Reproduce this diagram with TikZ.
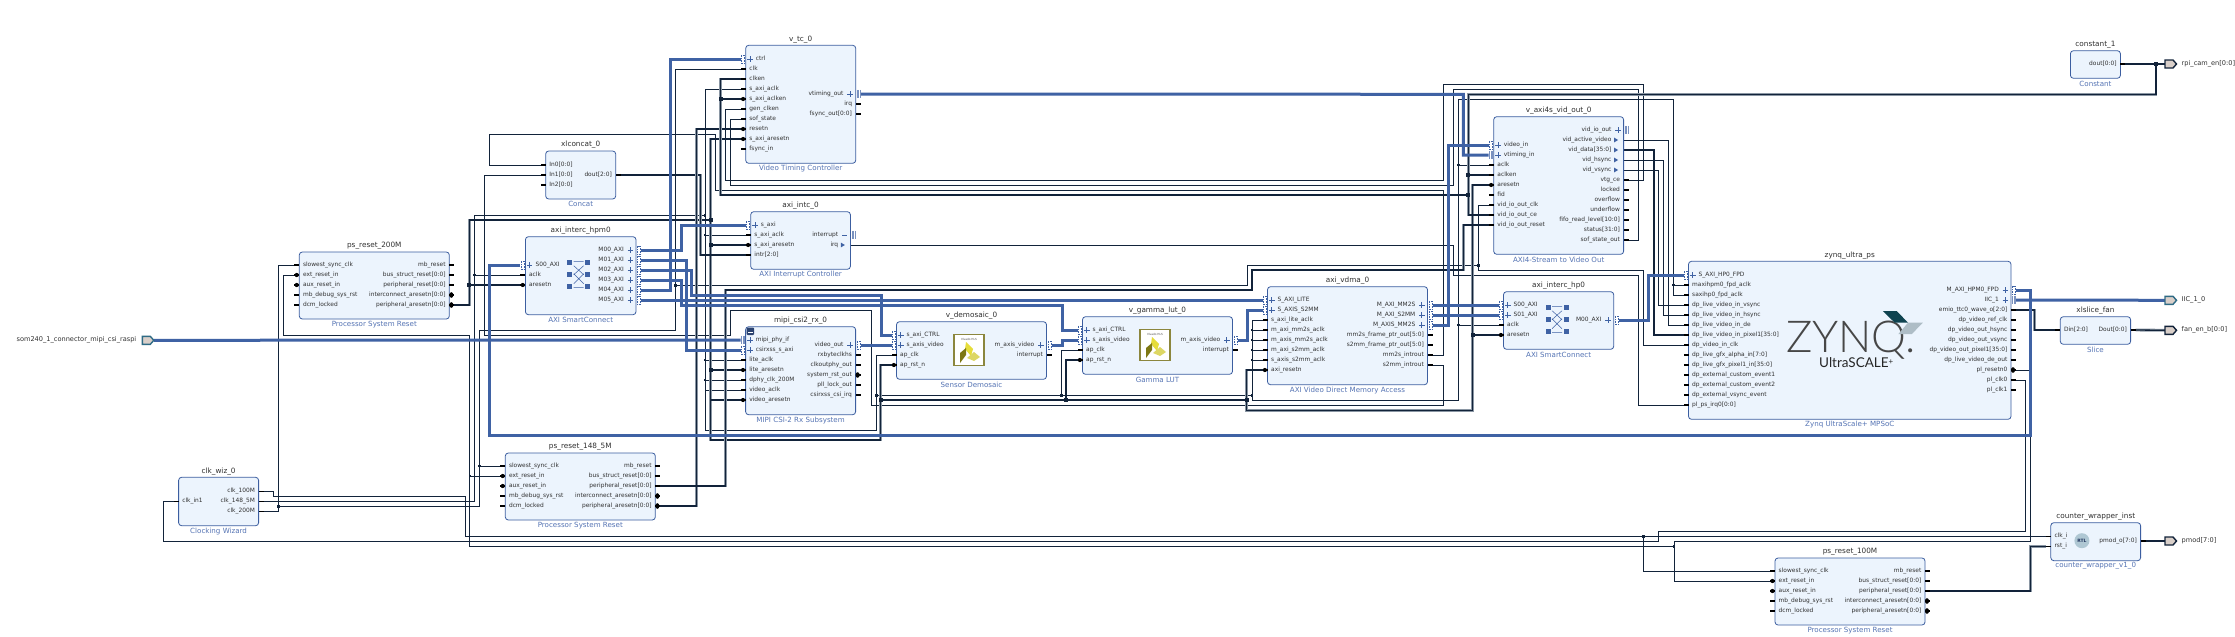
\documentclass[tikz,border=0pt]{standalone}
\usepackage{fontspec}
\setmainfont{DejaVu Sans}
\newfontfamily\zynqfont{Lato Light}
\newfontfamily\ultrafont{Lato}
\usetikzlibrary{calc}
\definecolor{bfill}{HTML}{ECF4FD}
\definecolor{bline}{HTML}{3C5EA0}
\definecolor{subc}{HTML}{5574B4}
\definecolor{wirec}{HTML}{12233A}
\definecolor{halo}{HTML}{8A96A3}
\definecolor{ifc}{HTML}{3F62A4}
\definecolor{plabc}{HTML}{303030}
\definecolor{portf}{HTML}{D9CFC9}
\definecolor{portt}{HTML}{2F6B85}
\definecolor{zteal}{HTML}{0F4350}
\definecolor{zgray}{HTML}{AEBDC6}
\definecolor{rtlc}{HTML}{AFC7D3}
\pgfdeclarelayer{bg}
\pgfsetlayers{bg,main}
\tikzset{
 blockbox/.style={draw=bline,fill=bfill,line width=.8pt,rounded corners=3pt,inner sep=0pt,outer sep=0pt},
 titlelab/.style={font=\fontsize{7.3}{8}\selectfont,text=plabc,inner sep=0pt},
 sublab/.style={font=\fontsize{7.1}{8}\selectfont,text=subc,inner sep=0pt},
 plab/.style={font=\fontsize{5.9}{7}\selectfont,text=plabc,inner sep=0pt,text height=4.4pt,text depth=1.3pt},
 portlab/.style={font=\fontsize{6.6}{8}\selectfont,text=plabc,inner sep=0pt,text height=4.6pt,text depth=1.4pt},
 wire/.style={draw=wirec,line width=.9pt,line join=miter},
 buswire/.style={draw=wirec,line width=1.3pt,preaction={draw=halo,line width=2.9pt}},
 ifcwire/.style={draw=ifc,line width=3pt},
 combd/.style={draw=ifc,line width=.6pt,densely dotted},
 combv/.style={draw=ifc!70,line width=.4pt},
 portshape/.style={fill=portf,line width=1.4pt},
}
\catcode`\_=12
\newcommand\blk[7]{\def\bl{#2}\def\br{#4}%
 \node[blockbox,minimum width={#4-#2},minimum height={#5-#3}] (#1) at ({(#2+#4)/2},{(#3+#5)/2}) {};%
 \node[titlelab] (#1-t) at ({(#2+#4)/2},{#3-6}) {#6};%
 \node[sublab] (#1-s) at ({(#2+#4)/2},{#5+5.4}) {#7};}
% left pins
\newcommand\LP[3]{\coordinate (#1) at ({\bl-5},{#2});\node[plab,anchor=west] (#1-l) at ({\bl+3.5},{#2}) {#3};\fill[black] ({\bl-5},{#2-.8}) rectangle (\bl,{#2+.8});}
\newcommand\LB[3]{\coordinate (#1) at ({\bl-5},{#2});\node[plab,anchor=west] (#1-l) at ({\bl+3.5},{#2}) {#3};\fill[black] ({\bl-5},{#2-1.4}) rectangle (\bl,{#2+1.4});}
\newcommand\LD[3]{\coordinate (#1) at ({\bl-5},{#2});\node[plab,anchor=west] (#1-l) at ({\bl+3.5},{#2}) {#3};\fill[black] ({\bl-5},{#2-.8}) rectangle (\bl,{#2+.8});\fill[black] ({\bl-2.6},{#2}) circle (2.1);}
\newcommand\LI[3]{\coordinate (#1) at ({\bl-5},{#2});\node[plab,anchor=west] (#1-l) at ({\bl+10},{#2}) {#3};\draw[ifc,line width=.7pt] ({\bl+1.6},{#2})--({\bl+7},{#2}) ({\bl+4.3},{#2-2.7})--({\bl+4.3},{#2+2.7});\draw[combd] ({\bl-4.5},{#2-4.2}) rectangle ({\bl-1.3},{#2+4.2});}
\newcommand\LV[3]{\coordinate (#1) at ({\bl-5},{#2});\node[plab,anchor=west] (#1-l) at ({\bl+10},{#2}) {#3};\draw[ifc,line width=.7pt] ({\bl+1.6},{#2})--({\bl+7},{#2}) ({\bl+4.3},{#2-2.7})--({\bl+4.3},{#2+2.7});\draw[combv] ({\bl-4.5},{#2-4.2})--({\bl-4.5},{#2+4.2}) ({\bl-2.9},{#2-4.2})--({\bl-2.9},{#2+4.2}) ({\bl-1.3},{#2-4.2})--({\bl-1.3},{#2+4.2});}
% right pins
\newcommand\RP[3]{\coordinate (#1) at ({\br+5},{#2});\node[plab,anchor=east] (#1-l) at ({\br-3.5},{#2}) {#3};\fill[black] (\br,{#2-.8}) rectangle ({\br+5},{#2+.8});}
\newcommand\RB[3]{\coordinate (#1) at ({\br+5},{#2});\node[plab,anchor=east] (#1-l) at ({\br-3.5},{#2}) {#3};\fill[black] (\br,{#2-1.4}) rectangle ({\br+5},{#2+1.4});}
\newcommand\RD[3]{\coordinate (#1) at ({\br+5},{#2});\node[plab,anchor=east] (#1-l) at ({\br-3.5},{#2}) {#3};\fill[black] (\br,{#2-.8}) rectangle ({\br+5},{#2+.8});\fill[black] ({\br+2},{#2}) ellipse (2.1 and 2.8);}
\newcommand\RI[3]{\coordinate (#1) at ({\br+5},{#2});\node[plab,anchor=east] (#1-l) at ({\br-12},{#2}) {#3};\draw[ifc,line width=.7pt] ({\br-8.4},{#2})--({\br-3},{#2}) ({\br-5.7},{#2-2.7})--({\br-5.7},{#2+2.7});\draw[combd] ({\br+1.3},{#2-4.2}) rectangle ({\br+4.5},{#2+4.2});}
\newcommand\RV[3]{\coordinate (#1) at ({\br+5},{#2});\node[plab,anchor=east] (#1-l) at ({\br-12},{#2}) {#3};\draw[ifc,line width=.7pt] ({\br-8.4},{#2})--({\br-3},{#2}) ({\br-5.7},{#2-2.7})--({\br-5.7},{#2+2.7});\draw[combv] ({\br+1.3},{#2-4.2})--({\br+1.3},{#2+4.2}) ({\br+2.9},{#2-4.2})--({\br+2.9},{#2+4.2}) ({\br+4.5},{#2-4.2})--({\br+4.5},{#2+4.2});}
\newcommand\RM[3]{\coordinate (#1) at ({\br+5},{#2});\node[plab,anchor=east] (#1-l) at ({\br-12},{#2}) {#3};\draw[ifc,line width=.7pt] ({\br-8.4},{#2})--({\br-3},{#2});\draw[combv] ({\br+1.3},{#2-4.2})--({\br+1.3},{#2+4.2}) ({\br+2.9},{#2-4.2})--({\br+2.9},{#2+4.2}) ({\br+4.5},{#2-4.2})--({\br+4.5},{#2+4.2});}
\newcommand\RA[3]{\coordinate (#1) at (\br,{#2});\node[plab,anchor=east] (#1-l) at ({\br-12},{#2}) {#3};\fill[ifc] ({\br-9.5},{#2-2.4})--({\br-5.5},{#2})--({\br-9.5},{#2+2.4})--cycle;}
% reset block
\newcommand\psreset[4]{\blk{#1}{#2}{#3}{#2+150}{#3+67}{#4}{Processor System Reset}%
 \LP{#1-slow}{#3+13}{slowest_sync_clk}\LD{#1-ext}{#3+23}{ext_reset_in}\LD{#1-aux}{#3+33}{aux_reset_in}\LP{#1-mb}{#3+43}{mb_debug_sys_rst}\LP{#1-dcm}{#3+53}{dcm_locked}%
 \RP{#1-mbr}{#3+13}{mb_reset}\RB{#1-bus}{#3+23}{bus_struct_reset[0:0]}\RB{#1-prst}{#3+33}{peripheral_reset[0:0]}\RD{#1-iarst}{#3+43}{interconnect_aresetn[0:0]}\RD{#1-parst}{#3+53}{peripheral_aresetn[0:0]}}
% junctions
\newcommand\jn[2]{\fill[wirec] ({#1-1.4},{#2-1.4}) rectangle ({#1+1.4},{#2+1.4});}
\newcommand\jb[2]{\fill[wirec] ({#1-2},{#2-2}) rectangle ({#1+2},{#2+2});}
% ports
\newcommand\portA[4]{\coordinate (#1) at (#2,#3);\filldraw[portshape,draw=#4] (#2,{#3-4})--({#2+8},{#3-4})--({#2+11.5},#3)--({#2+8},{#3+4})--(#2,{#3+4})--cycle;}
% crossbar icon
\newcommand\xbar[2]{\begin{scope}[shift={(#1,#2)}]
 \foreach \yy in {-12,0,12}{\fill[ifc] (-11.5,{\yy-2.5}) rectangle (-6.5,{\yy+2.5});\fill[ifc] (6.5,{\yy-2.5}) rectangle (11.5,{\yy+2.5});}
 \draw[ifc,line width=.5pt] (-5,-13)--(5,-13) (-5,-9)--(5,0) (5,-9)--(-5,0) (-5,-1)--(5,9) (5,-1)--(-5,9) (-5,13)--(5,13);
 \end{scope}}
% HLS logo
\newcommand\hlslogo[2]{\begin{scope}[shift={(#1,#2)}]
 \filldraw[fill=white,draw=black!30!olive!80!white,line width=1.3pt] (-15,-15.5) rectangle (15,15.5);
 \node[font=\fontsize{2.8}{3}\selectfont,text=black!70,inner sep=0pt] (logo#1) at (0,-11) {Vivado HLS};
 \fill[yellow!70!olive!75!white] (-3,-8)--(4,-1)--(2,6)--(-4,-1)--cycle;
 \fill[olive!85!black] (-9,3)--(-3,-2)--(-3,5)--(-9,13)--cycle;
 \fill[yellow!45!olive!55!white] (-2,8)--(5,2)--(11,7)--(5,11)--cycle;
 \end{scope}}
\begin{document}
\begin{tikzpicture}[x=1pt,y=-1pt]
\useasboundingbox (0,0) rectangle (2235,637);
\begin{pgfonlayer}{bg}
\fill[white] (0,0) rectangle (2235,637);
\end{pgfonlayer}

% ---------- blocks ----------
\psreset{pa}{299.3}{252}{ps_reset_200M}
\psreset{pb}{505.3}{453}{ps_reset_148_5M}
\psreset{pc}{1775}{558}{ps_reset_100M}

\blk{wiz}{178.6}{477.3}{258.6}{525.7}{clk_wiz_0}{Clocking Wizard}
\LP{wiz-in}{501.3}{clk_in1}
\RP{wiz-a}{491.3}{clk_100M}\RP{wiz-b}{501.3}{clk_148_5M}\RP{wiz-c}{511.3}{clk_200M}

\blk{con}{545.7}{151}{615.7}{199}{xlconcat_0}{Concat}
\LB{con-i0}{165}{In0[0:0]}\LB{con-i1}{175}{In1[0:0]}\LB{con-i2}{185}{In2[0:0]}
\RB{con-d}{175}{dout[2:0]}

\blk{vtc}{745.7}{45.3}{855.7}{163.3}{v_tc_0}{Video Timing Controller}
\LI{vtc-ctrl}{59}{ctrl}\LP{vtc-clk}{69}{clk}\LP{vtc-en}{79}{clken}\LP{vtc-sa}{89}{s_axi_aclk}\LD{vtc-saen}{99}{s_axi_aclken}
\LP{vtc-gen}{109}{gen_clken}\LP{vtc-sof}{119}{sof_state}\LD{vtc-rst}{129}{resetn}\LD{vtc-sar}{139}{s_axi_aresetn}\LP{vtc-fs}{149}{fsync_in}
\RV{vtc-vt}{94}{vtiming_out}\RP{vtc-irq}{104}{irq}\RB{vtc-fo}{114}{fsync_out[0:0]}

\blk{intc}{750.7}{211.7}{850.4}{269.3}{axi_intc_0}{AXI Interrupt Controller}
\LI{intc-s}{225}{s_axi}\LP{intc-c}{235}{s_axi_aclk}\LD{intc-r}{245}{s_axi_aresetn}\LB{intc-i}{255}{intr[2:0]}
\RM{intc-o}{235}{interrupt}\RA{intc-q}{245}{irq}

\blk{hpm}{525.4}{236.7}{636}{314.7}{axi_interc_hpm0}{AXI SmartConnect}
\LI{hpm-s}{265}{S00_AXI}\LP{hpm-c}{275}{aclk}\LD{hpm-r}{285}{aresetn}
\RI{hpm-m0}{250}{M00_AXI}\RI{hpm-m1}{260}{M01_AXI}\RI{hpm-m2}{270}{M02_AXI}\RI{hpm-m3}{280}{M03_AXI}\RI{hpm-m4}{290}{M04_AXI}\RI{hpm-m5}{300}{M05_AXI}
\xbar{578.7}{274.7}

\blk{mip}{745.6}{326.7}{855.6}{414.7}{mipi_csi2_rx_0}{MIPI CSI-2 Rx Subsystem}
\LV{mip-phy}{340}{mipi_phy_if}\LI{mip-csi}{350}{csirxss_s_axi}\LP{mip-lc}{360}{lite_aclk}\LD{mip-lr}{370}{lite_aresetn}\LP{mip-dc}{380}{dphy_clk_200M}\LP{mip-vc}{390}{video_aclk}\LD{mip-vr}{400}{video_aresetn}
\RI{mip-vo}{345}{video_out}\RP{mip-r1}{355}{rxbyteclkhs}\RP{mip-r2}{365}{clkoutphy_out}\RD{mip-r3}{375}{system_rst_out}\RP{mip-r4}{385}{pll_lock_out}\RP{mip-r5}{395}{csirxss_csi_irq}
\fill[bline!70!black,rounded corners=1pt] (746.5,327.5) rectangle (754,335);
\fill[white] (747.5,331.5) rectangle (753,333);

\blk{dem}{896.5}{321.7}{1046.5}{379.3}{v_demosaic_0}{Sensor Demosaic}
\LI{dem-ct}{335}{s_axi_CTRL}\LI{dem-sv}{345}{s_axis_video}\LP{dem-c}{355}{ap_clk}\LD{dem-r}{365}{ap_rst_n}
\RI{dem-mv}{345}{m_axis_video}\RP{dem-in}{355}{interrupt}
\hlslogo{969}{350}

\blk{gam}{1082.5}{316.7}{1232.5}{374.3}{v_gamma_lut_0}{Gamma LUT}
\LI{gam-ct}{330}{s_axi_CTRL}\LI{gam-sv}{340}{s_axis_video}\LP{gam-c}{350}{ap_clk}\LD{gam-r}{360}{ap_rst_n}
\RI{gam-mv}{340}{m_axis_video}\RP{gam-in}{350}{interrupt}
\hlslogo{1155}{345}

\blk{vd}{1267.5}{286.7}{1427.5}{384.7}{axi_vdma_0}{AXI Video Direct Memory Access}
\LI{vd-l}{300}{S_AXI_LITE}\LI{vd-s}{310}{S_AXIS_S2MM}\LP{vd-c1}{320}{s_axi_lite_aclk}\LP{vd-c2}{330}{m_axi_mm2s_aclk}\LP{vd-c3}{340}{m_axis_mm2s_aclk}\LP{vd-c4}{350}{m_axi_s2mm_aclk}\LP{vd-c5}{360}{s_axis_s2mm_aclk}\LD{vd-r}{370}{axi_resetn}
\RI{vd-m1}{305}{M_AXI_MM2S}\RI{vd-m2}{315}{M_AXI_S2MM}\RI{vd-m3}{325}{M_AXIS_MM2S}\RB{vd-f1}{335}{mm2s_frame_ptr_out[5:0]}\RB{vd-f2}{345}{s2mm_frame_ptr_out[5:0]}\RP{vd-i1}{355}{mm2s_introut}\RP{vd-i2}{365}{s2mm_introut}

\blk{hp}{1503.5}{291.7}{1613.7}{349.3}{axi_interc_hp0}{AXI SmartConnect}
\LI{hp-s0}{305}{S00_AXI}\LI{hp-s1}{315}{S01_AXI}\LP{hp-c}{325}{aclk}\LD{hp-r}{335}{aresetn}
\RI{hp-m}{320}{M00_AXI}
\xbar{1557}{319.7}

\blk{ax}{1493.7}{116.7}{1623.6}{254.3}{v_axi4s_vid_out_0}{AXI4-Stream to Video Out}
\LI{ax-vi}{145}{video_in}\LV{ax-vt}{155}{vtiming_in}\LP{ax-c}{165}{aclk}\LP{ax-en}{175}{aclken}\LD{ax-r}{185}{aresetn}\LP{ax-fid}{195}{fid}\LP{ax-ioc}{205}{vid_io_out_clk}\LP{ax-ioe}{215}{vid_io_out_ce}\LP{ax-ior}{225}{vid_io_out_reset}
\RV{ax-io}{130}{vid_io_out}\RA{ax-act}{140}{vid_active_video}\RA{ax-dat}{150}{vid_data[35:0]}\RA{ax-hs}{160}{vid_hsync}\RA{ax-vs}{170}{vid_vsync}\RP{ax-vtg}{180}{vtg_ce}\RP{ax-lck}{190}{locked}\RP{ax-ov}{200}{overflow}\RP{ax-un}{210}{underflow}\RB{ax-fifo}{220}{fifo_read_level[10:0]}\RB{ax-st}{230}{status[31:0]}\RP{ax-sof}{240}{sof_state_out}

\blk{zy}{1688.5}{261.3}{2011}{419.3}{zynq_ultra_ps}{Zynq UltraScale+ MPSoC}
\LI{zy-hp}{275}{S_AXI_HP0_FPD}\LP{zy-c1}{285}{maxihpm0_fpd_aclk}\LP{zy-c2}{295}{saxihp0_fpd_aclk}\LP{zy-vs}{305}{dp_live_video_in_vsync}\LP{zy-hs}{315}{dp_live_video_in_hsync}\LP{zy-de}{325}{dp_live_video_in_de}\LB{zy-px}{335}{dp_live_video_in_pixel1[35:0]}\LP{zy-vc}{345}{dp_video_in_clk}\LB{zy-ga}{355}{dp_live_gfx_alpha_in[7:0]}\LB{zy-gp}{365}{dp_live_gfx_pixel1_in[35:0]}\LP{zy-e1}{375}{dp_external_custom_event1}\LP{zy-e2}{385}{dp_external_custom_event2}\LP{zy-e3}{395}{dp_external_vsync_event}\LB{zy-irq}{405}{pl_ps_irq0[0:0]}
\RI{zy-m}{290}{M_AXI_HPM0_FPD}\RV{zy-iic}{300}{IIC_1}\RB{zy-emio}{310}{emio_ttc0_wave_o[2:0]}\RP{zy-r1}{320}{dp_video_ref_clk}\RP{zy-r2}{330}{dp_video_out_hsync}\RP{zy-r3}{340}{dp_video_out_vsync}\RB{zy-r4}{350}{dp_video_out_pixel1[35:0]}\RP{zy-r5}{360}{dp_live_video_de_out}\RD{zy-rn}{370}{pl_resetn0}\RP{zy-clk0}{380}{pl_clk0}\RP{zy-clk1}{390}{pl_clk1}
\node[anchor=base west,inner sep=0pt,font=\zynqfont\fontsize{44}{44}\selectfont,text=black!72] (zlogo) at (1786,352) {ZYNQ.};
\node[anchor=base west,inner sep=0pt,font=\ultrafont\fontsize{13.5}{14}\selectfont,text=black!85] (ulogo) at (1819,367.5) {UltraSCALE\raisebox{3pt}{\fontsize{8}{8}\selectfont +}};
\fill[zteal] (1882.9,311)--(1896.7,311)--(1908,322.7)--(1894.7,322.7)--cycle;
\fill[zgray] (1908,322.7)--(1922.9,322.7)--(1911.8,334)--(1898.4,334)--cycle;

\blk{cst}{2070.4}{50.7}{2120.4}{78.3}{constant_1}{Constant}
\RB{cst-d}{64}{dout[0:0]}

\blk{sli}{2060.3}{316.7}{2130.6}{344.3}{xlslice_fan}{Slice}
\LB{sli-i}{330}{Din[2:0]}\RB{sli-o}{330}{Dout[0:0]}

\blk{cnt}{2050.8}{522.7}{2140.6}{560.7}{counter_wrapper_inst}{counter_wrapper_v1_0}
\LP{cnt-c}{536.4}{clk_i}\LP{cnt-r}{546.4}{rst_i}\RB{cnt-p}{541}{pmod_o[7:0]}
\fill[rtlc] (2081.9,540.7) circle (7.5);
\node[font=\bfseries\fontsize{4.5}{5}\selectfont,text=bline!60!black,inner sep=0pt] (rtl) at (2081.9,540.7) {RTL};

% ports
\portA{som}{142.3}{340.3}{portt}
\portA{pcam}{2165}{64}{wirec}
\portA{piic}{2165}{300.3}{portt}
\portA{pfan}{2165}{330.3}{wirec}
\portA{ppm}{2165}{541}{wirec}
\coordinate (somtip) at (153.8,340.3);
\node[portlab,anchor=east] (som-l) at (136.5,340.3) {som240_1_connector_mipi_csi_raspi};
\node[portlab,anchor=west] (pcam-l) at (2181.5,64) {rpi_cam_en[0:0]};
\node[portlab,anchor=west] (piic-l) at (2181.5,300.3) {IIC_1_0};
\node[portlab,anchor=west] (pfan-l) at (2181.5,330.3) {fan_en_b[0:0]};
\node[portlab,anchor=west] (ppm-l) at (2181.5,541) {pmod[7:0]};

\begin{pgfonlayer}{bg}
% ---------- thin wires ----------
\draw[wire] (wiz-c)--(278.3,511.3)--(278.3,265)--(pa-slow);
\draw[wire] (pa-ext)--(283.3,275)--(283.3,335.3)--(469.9,335.3)--(469.9,546.4)--(1674,546.4)--(1674,581)--(pc-ext);
\draw[wire] (zy-rn)--(2030,370)--(2030,541.3)--(1674,541.3)--(1674,546.4);
\draw[wire] (zy-clk0)--(2025.7,380)--(2025.7,531)--(1658,531)--(1658,541.3)--(163.6,541.3)--(163.6,501.3)--(wiz-in);
\draw[wire] (pb-ext)--(469.9,476);
% clk_100M
\draw[wire] (wiz-a)--(273.6,491.3)--(273.6,496.3)--(465,496.3)--(465,536.4)--(cnt-c);
\draw[wire] (pc-slow)--(1643.6,571)--(1643.6,536.4);
% clk_148_5M
\draw[wire] (wiz-b)--(474.6,501.3)--(474.6,215.4)--(705,215.4);
\draw[wire] (vtc-sa)--(705,89)--(705,430.7)--(876.5,430.7)--(876.5,355)--(dem-c);
\draw[wire] (hpm-c)--(474.6,275);
\draw[wire] (intc-c)--(705,235);
\draw[wire] (mip-lc)--(705,360);
\draw[wire] (mip-dc)--(705,380);
\draw[wire] (mip-vc)--(705,390);
% clk_200M branch
\draw[wire] (278.3,506.3)--(479.6,506.3)--(479.6,330.3)--(675.4,330.3)--(675.4,69)--(vtc-clk);
\draw[wire] (pb-slow)--(479.6,466);
\draw[wire] (675.4,285.3)--(1247.3,285.3)--(1247.3,265.3)--(1478.3,265.3);
\draw[wire] (ax-ioc)--(1478.3,205)--(1478.3,270)--(1643.3,270)--(1643.3,345)--(zy-vc);
% interrupts
\draw[wire] (vd-i2)--(1443.6,365)--(1443.6,405.3)--(871,405.3)--(871,310.7)--(730,310.7)--(730,335.2)--(484.4,335.2)--(484.4,175)--(con-i1);
\draw[wire] (vd-i1)--(1443.4,355)--(1443.4,190.6)--(715.7,190.6)--(715.7,134.7)--(489.3,134.7)--(489.3,165)--(con-i0);
\draw[wire] (intc-q)--(1453.3,245)--(1453.3,275.3)--(1638.4,275.3)--(1638.4,405)--(zy-irq);
% vtc
\draw[wire] (vtc-gen)--(725.7,109)--(725.7,180.3)--(1443.7,180.3)--(1443.7,84.3)--(1643.3,84.3)--(1643.3,180)--(ax-vtg);
\draw[wire] (vtc-sof)--(730.4,119)--(730.4,185.3)--(1453.3,185.3)--(1453.3,89.3)--(1638,89.3)--(1638,240)--(ax-sof);
% vid
\draw[wire] (ax-act)--(1668.4,140)--(1668.4,325)--(zy-de);
\draw[wire] (ax-hs)--(1663.6,160)--(1663.6,315)--(zy-hs);
\draw[wire] (ax-vs)--(1658.3,170)--(1658.3,305)--(zy-vs);
% video clock
\draw[wire] (876.5,395.3)--(1252,395.3)--(1252,320)--(vd-c1);
\draw[wire] (gam-c)--(1061.5,350)--(1061.5,395.3);
\draw[wire] (vd-c2)--(1252,330);\draw[wire] (vd-c3)--(1252,340);\draw[wire] (vd-c4)--(1252,350);\draw[wire] (vd-c5)--(1252,360);
\draw[wire] (1252,395.3)--(1252,400.3)--(1458.3,400.3)--(1458.3,99.3)--(1673.7,99.3)--(1673.7,295)--(zy-c2);
\draw[wire] (ax-c)--(1458.3,165);
\draw[wire] (hp-c)--(1458.3,325);
\draw[wire] (zy-c1)--(1673.7,285);
% ---------- bus wires ----------
\draw[buswire] (pa-parst)--(469.3,305)--(469.3,220)--(710.8,220)--(710.8,440)--(880.5,440)--(880.5,365)--(dem-r);
\draw[buswire] (469.3,285)--(hpm-r);
\draw[buswire] (vtc-sar)--(710.8,139)--(710.8,220);
\draw[buswire] (intc-r)--(710.8,245);
\draw[buswire] (mip-lr)--(710.8,370);
\draw[buswire] (mip-vr)--(710.8,400);
\draw[buswire] (con-d)--(700.5,175)--(700.5,255)--(intc-i);
\draw[buswire] (vtc-rst)--(696.3,129)--(696.3,506)--(pb-parst);
\draw[buswire] (880.5,400)--(1246.5,400);
\draw[buswire] (gam-r)--(1066,360)--(1066,400);
\draw[buswire] (vd-r)--(1246.5,370)--(1246.5,410.5)--(1472.6,410.5)--(1472.6,185)--(ax-r);
\draw[buswire] (hp-r)--(1472.6,335);
\draw[buswire] (pb-prst)--(725.4,486)--(725.4,290)--(1252,290)--(1252,270)--(1463.3,270)--(1463.3,225)--(ax-ior);
\draw[buswire] (cst-d)--(pcam);
\draw[buswire] (2156,64)--(2156,94.3)--(1468.3,94.3)--(1468.3,215)--(ax-ioe);
\draw[buswire] (ax-en)--(1468.3,175);
\draw[buswire] (1468.3,195)--(720.7,195)--(720.7,79)--(vtc-en);
\draw[buswire] (vtc-saen)--(720.7,99);
\draw[buswire] (ax-dat)--(1654,150)--(1654,335)--(zy-px);
\draw[buswire] (zy-emio)--(2034.7,310)--(2034.7,330)--(sli-i);
\draw[buswire] (sli-o)--(pfan);
\draw[buswire] (pc-prst)--(2030.4,591)--(2030.4,546.4)--(cnt-r);
\draw[buswire] (cnt-p)--(ppm);
% ---------- interface wires ----------
\draw[ifcwire] (somtip)--(mip-phy);
\draw[ifcwire] (zy-m)--(2030,290)--(2030,435.3)--(489.4,435.3)--(489.4,265)--(hpm-s);
\draw[ifcwire] (hpm-m0)--(681,250)--(681,225)--(intc-s);
\draw[ifcwire] (hpm-m1)--(686.4,260)--(686.4,350)--(mip-csi);
\draw[ifcwire] (hpm-m2)--(691.4,270)--(691.4,295)--(881.7,295)--(881.7,335)--(dem-ct);
\draw[ifcwire] (hpm-m3)--(681,280)--(681,305)--(1062.5,305)--(1062.5,330)--(gam-ct);
\draw[ifcwire] (hpm-m4)--(670.5,290)--(670.5,59)--(vtc-ctrl);
\draw[ifcwire] (hpm-m5)--(vd-l);
\draw[ifcwire] (mip-vo)--(dem-sv);
\draw[ifcwire] (dem-mv)--(1062.5,345)--(1062.5,340)--(gam-sv);
\draw[ifcwire] (gam-mv)--(1247.5,340)--(1247.5,310)--(vd-s);
\draw[ifcwire] (vd-m1)--(hp-s0);
\draw[ifcwire] (vd-m2)--(hp-s1);
\draw[ifcwire] (vd-m3)--(1448.2,325)--(1448.2,145)--(ax-vi);
\draw[ifcwire] (vtc-vt)--(1463.3,94.3)--(1463.3,155)--(ax-vt);
\draw[ifcwire] (hp-m)--(1648.7,320)--(1648.7,275)--(zy-hp);
\draw[ifcwire] (zy-iic)--(piic);
% ---------- junctions ----------
\jn{474.6}{275}\jn{705}{215.4}\jn{705}{235}\jn{705}{360}\jn{705}{380}\jn{278.3}{506.3}\jn{675.4}{285.3}
\jn{1478.3}{265.3}\jn{1458.3}{165}\jn{1458.3}{325}\jn{1673.7}{285}
\jn{876.5}{395.3}\jn{1061.5}{395.3}\jn{1252}{395.3}\jn{1252}{330}\jn{1252}{340}\jn{1252}{350}\jn{1252}{360}
\jn{1643.6}{536.4}\jn{1674}{546.4}\jn{469.9}{476}\jn{479.6}{466}
\jb{469.3}{285}\jb{710.8}{220}\jb{710.8}{245}\jb{710.8}{370}\jb{720.7}{99}\jb{880.5}{400}\jb{1066}{400}\jb{1246.5}{400}
\jb{1468.3}{175}\jb{1468.3}{195}\jb{1472.6}{335}\jb{2156}{64}
\end{pgfonlayer}
\end{tikzpicture}
\end{document}
